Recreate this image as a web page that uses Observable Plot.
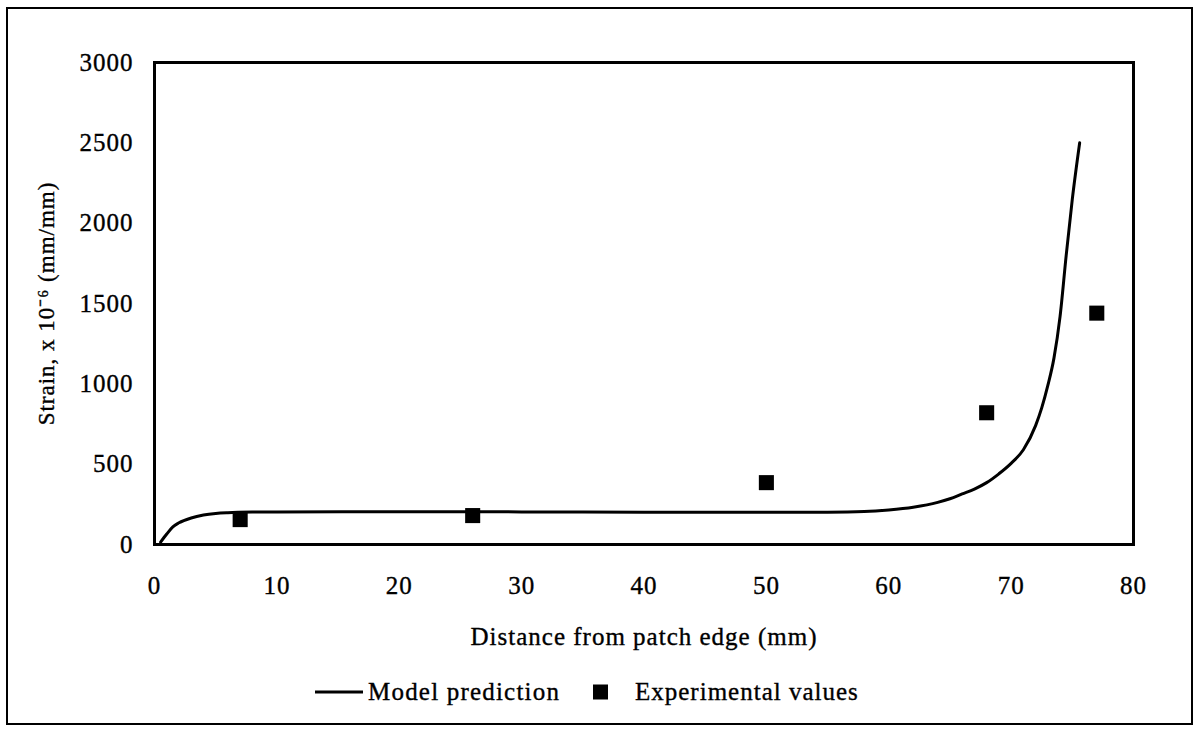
<!DOCTYPE html>
<html>
<head>
<meta charset="utf-8">
<script src="https://cdn.jsdelivr.net/npm/d3@7"></script>
<script src="https://cdn.jsdelivr.net/npm/@observablehq/plot@0.6"></script>
<style>
  html, body { margin: 0; padding: 0; background: #fff; }
  #wrap { position: relative; width: 1199px; height: 731px; overflow: hidden; font-family: "Liberation Serif", "Times New Roman", serif; }
  #border { position: absolute; left: 6px; top: 7px; width: 1187px; height: 718px; border: 2px solid #000; box-sizing: border-box; }
  #chart { position: absolute; left: 0; top: 0; }
  #chart text { letter-spacing: 1px; stroke: #000; stroke-width: 0.35px; }
  #chart g[aria-label="x-title"] text { letter-spacing: 0.7px; }
  #chart g[aria-label="y-title"] text { letter-spacing: 0.3px; }
  #legend { position: absolute; top: 677px; left: 0; width: 1199px; height: 30px; font-size: 25px; color: #000; letter-spacing: 1.2px; -webkit-text-stroke: 0.35px #000; }
  .lg { position: absolute; top: 0; height: 30px; display: flex; align-items: center; white-space: nowrap; }
</style>
</head>
<body>
<div id="wrap">
  <div id="border"></div>
  <div id="chart"></div>
  <div id="legend">
    <div class="lg" style="left:315px;"><svg width="48" height="30"><line x1="0" y1="15" x2="48" y2="15" stroke="#000" stroke-width="3"/></svg><span style="margin-left:5px">Model prediction</span></div>
    <div class="lg" style="left:593px;"><svg width="15" height="30"><rect x="0" y="7.5" width="15" height="15" fill="#000"/></svg><span style="margin-left:27px; letter-spacing:1px">Experimental values</span></div>
  </div>
</div>
<script>
const modelX = [0.5, 1, 1.5, 2, 3, 4, 5, 6, 8, 10, 20, 30, 40, 50, 55, 58, 60, 62, 64, 65, 66, 67, 68, 69, 70, 71, 72, 72.5, 73, 73.5, 74, 74.5, 75, 75.6];
const modelY = [15, 65, 110, 135, 165, 183, 193, 198, 202, 203, 204, 203, 201, 200, 201, 205, 215, 232, 262, 285, 315, 345, 385, 440, 505, 590, 740, 850, 990, 1160, 1420, 1800, 2150, 2500];
const expX = [7, 26, 50, 68, 77];
const expY = [155, 180, 385, 820, 1440];
const xTicks = [0, 10, 20, 30, 40, 50, 60, 70, 80];
const yTicks = [0, 500, 1000, 1500, 2000, 2500, 3000];
const xTitle = "Distance from patch edge (mm)";
const yTitle = "Strain, x 10\u207B\u2076 (mm/mm)";

const model = modelX.map((x, i) => ({x, y: modelY[i]}));
const exp = expX.map((x, i) => ({x, y: expY[i]}));

const chart = Plot.plot({
  width: 1199,
  height: 660,
  marginLeft: 154,
  marginRight: 66,
  marginTop: 62,
  marginBottom: 116,
  style: { fontFamily: "Liberation Serif, Times New Roman, serif", fontSize: "25px", color: "#000", background: "transparent" },
  x: { domain: [0, 80] },
  y: { domain: [0, 3000] },
  marks: [
    Plot.frame({ stroke: "#000", strokeWidth: 3 }),
    Plot.axisX({ ticks: xTicks, tickFormat: d => String(d), tickSize: 0, tickPadding: 32, label: null, fontSize: 25 }),
    Plot.axisY({ ticks: yTicks, tickFormat: d => String(d), tickSize: 0, tickPadding: 21, label: null, fontSize: 25 }),
    Plot.text([xTitle], { frameAnchor: "bottom", dy: 100, fontSize: 25, fill: "#000", ariaLabel: "x-title" }),
    Plot.text([yTitle], { frameAnchor: "left", textAnchor: "middle", dx: -108, rotate: -90, fontSize: 23, fill: "#000", ariaLabel: "y-title" }),
    Plot.line(model, { x: "x", y: "y", stroke: "#000", strokeWidth: 3, curve: "monotone-x" }),
    Plot.dot(exp, { x: "x", y: "y", symbol: "square", r: 8.5, fill: "#000", stroke: "none" })
  ]
});
document.getElementById("chart").appendChild(chart);
</script>
</body>
</html>
